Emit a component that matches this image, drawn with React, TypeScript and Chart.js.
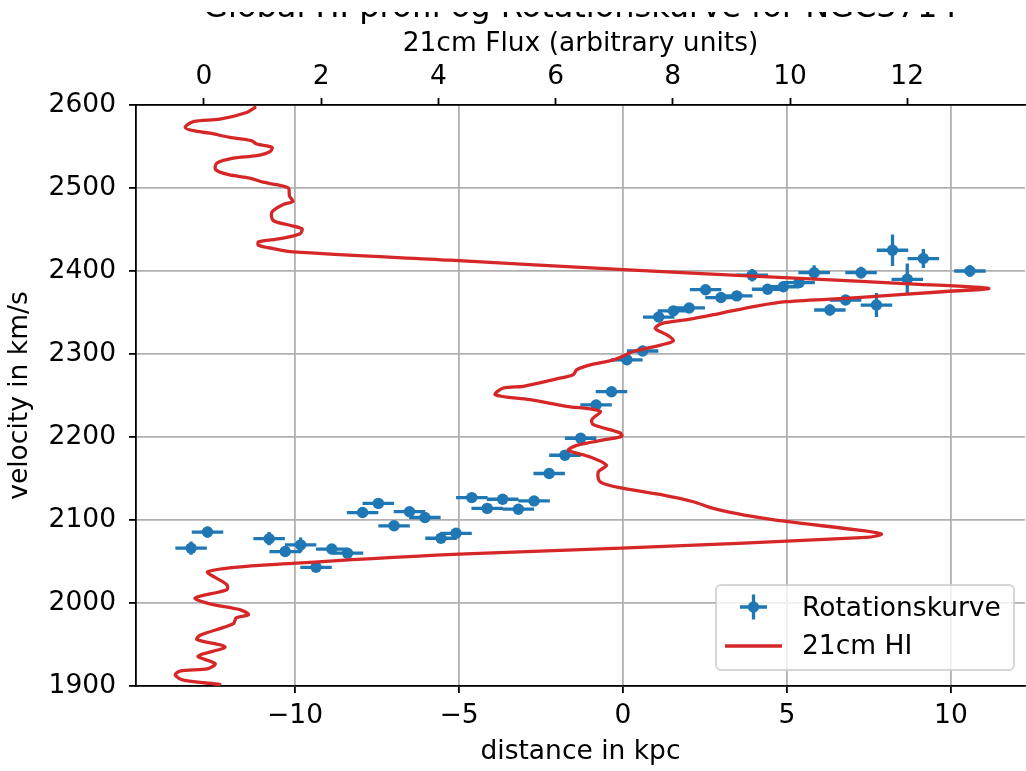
import { useEffect, useRef } from 'react';
import { Chart, registerables } from 'chart.js';

Chart.register(...registerables);

const FONT = "'DejaVu Sans', 'Liberation Sans', sans-serif";
const BLUE = '#1f77b4';
const RED = '#d62728';
const GRID = '#b0b0b0';

const TITLE = 'Global HI profil og Rotationskurve for NGC3714';
const X_LABEL = 'distance in kpc';
const X2_LABEL = '21cm Flux (arbitrary units)';
const Y_LABEL = 'velocity in km/s';

// axis ranges and tick values
const DIST_RANGE = [-14.85, 12.26];
const FLUX_RANGE = [-1.16, 14.01];
const VEL_RANGE = [1900, 2600];
const DIST_TICKS = [-10, -5, 0, 5, 10];
const FLUX_TICKS = [0, 2, 4, 6, 8, 10, 12];
const VEL_TICKS = [1900, 2000, 2100, 2200, 2300, 2400, 2500, 2600];

// rotation curve: distance (kpc), velocity (km/s) and their errors
const ROT_DIST = [
  -13.17, -12.67, -10.79, -10.3, -9.83, -9.36, -8.88, -8.4, -7.94, -7.46,
  -6.98, -6.51, -6.04, -5.55, -5.09, -4.61, -4.14, -3.67, -3.19, -2.71,
  -2.25, -1.77, -1.29, -0.82, -0.35, 0.12, 0.6, 1.09, 1.54, 2.02,
  2.52, 2.99, 3.47, 3.94, 4.41, 4.89, 5.37, 5.83, 6.31, 6.79,
  7.26, 7.73, 8.22, 8.67, 9.16, 10.58,
];
const ROT_VEL = [
  2066, 2085.5, 2077.5, 2062, 2070, 2043, 2065, 2060, 2109, 2120,
  2093, 2110, 2103, 2078, 2084, 2127, 2114, 2125, 2113, 2123,
  2156, 2178, 2198.5, 2238.6, 2254.6, 2293, 2303.6, 2344.5, 2352, 2355.5,
  2377.5, 2368, 2370, 2395, 2378, 2381, 2386, 2398, 2353, 2365,
  2398, 2359, 2425, 2390, 2415, 2400,
];
const ROT_VEL_ERR = [
  8, 6.5, 8, 4, 9, 4, 4, 4, 4, 4,
  4, 4, 4, 4, 4, 4, 4, 4, 4, 4,
  4, 4, 4, 4, 4, 4, 4, 4, 4, 4,
  4, 4, 4, 7.5, 5, 4, 4, 9, 6.6, 4,
  7, 14.5, 19, 19, 11.5, 7,
];
const ROT_DIST_ERR = [
  0.48, 0.48, 0.48, 0.48, 0.48, 0.48, 0.48, 0.48, 0.48, 0.48,
  0.48, 0.48, 0.48, 0.48, 0.48, 0.48, 0.48, 0.48, 0.48, 0.48,
  0.48, 0.48, 0.48, 0.48, 0.48, 0.48, 0.48, 0.48, 0.48, 0.48,
  0.48, 0.48, 0.48, 0.48, 0.48, 0.48, 0.48, 0.48, 0.48, 0.48,
  0.48, 0.48, 0.48, 0.48, 0.48, 0.48,
];

// global HI profile: velocity (km/s) and 21cm flux
const HI_VEL = [
  2597, 2591, 2583, 2580, 2573, 2569, 2566, 2561, 2557, 2553,
  2549, 2544, 2539, 2536, 2530, 2522, 2516, 2512, 2507, 2504,
  2500, 2490, 2484, 2480, 2471, 2461, 2456, 2451, 2445, 2439,
  2435, 2431, 2427, 2423, 2413, 2402, 2392, 2384, 2379, 2375,
  2368, 2363, 2358, 2349, 2342, 2337, 2331, 2323, 2316, 2311,
  2303, 2293, 2287, 2281, 2275, 2270, 2261, 2259, 2251, 2245,
  2237, 2231, 2221, 2215, 2205, 2201, 2197, 2190, 2184, 2176,
  2166, 2158, 2146, 2138, 2130, 2122, 2114, 2106, 2098, 2088,
  2083, 2079, 2066, 2059, 2048, 2038, 2022, 2016, 2006, 1999,
  1992, 1986, 1982, 1975, 1961, 1956, 1947, 1936, 1927, 1921,
  1918, 1913, 1907, 1902,
];
const HI_FLUX = [
  0.87, 0.73, 0.27, -0.18, -0.32, -0.18, 0.1, 0.44, 0.81, 0.9,
  1.16, 1.13, 0.9, 0.5, 0.22, 0.2, 0.42, 0.78, 1.01, 1.24,
  1.44, 1.46, 1.52, 1.35, 1.16, 1.18, 1.41, 1.67, 1.64, 1.3,
  0.93, 0.93, 1.18, 1.52, 4.2, 7.08, 9.9, 12.2, 13.39, 12.6,
  11.15, 9.94, 9.45, 8.81, 8.3, 7.82, 7.7, 7.9, 8.01, 7.81,
  7.33, 6.99, 6.59, 6.36, 6.3, 6.02, 5.45, 5.11, 4.97, 5.56,
  6.19, 6.76, 6.62, 6.64, 7.1, 7.13, 6.87, 6.36, 6.22, 6.59,
  6.87, 6.73, 6.76, 7.16, 7.84, 8.35, 8.69, 9.22, 9.97, 11.14,
  11.56, 11.31, 7.12, 4.35, 1.58, 0.07, 0.39, 0.39, -0.15, 0.1,
  0.61, 0.76, 0.55, 0.5, -0.07, -0.12, 0.36, -0.1, 0.19, 0.07,
  -0.41, -0.49, -0.35, 0.27,
];

const fmt = (v: number) => (v < 0 ? `\u2212${-v}` : `${v}`);
const tickFont = { family: FONT, size: 26.5, lineHeight: 1 };
const MARKER_RADIUS = 5.7;

// horizontal and vertical error bars under the rotation-curve markers
const errorBars = {
  id: 'errorBars',
  beforeDatasetDraw(chart: any, args: any) {
    if (args.index !== 0) return;
    const { ctx } = chart;
    const x = chart.scales.x;
    const y = chart.scales.y;
    ctx.save();
    ctx.strokeStyle = BLUE;
    ctx.lineWidth = 3.3;
    ctx.lineCap = 'butt';
    ctx.beginPath();
    ROT_DIST.forEach((d, i) => {
      const v = ROT_VEL[i];
      const px = x.getPixelForValue(d);
      const py = y.getPixelForValue(v);
      ctx.moveTo(x.getPixelForValue(d - ROT_DIST_ERR[i]), py);
      ctx.lineTo(x.getPixelForValue(d + ROT_DIST_ERR[i]), py);
      ctx.moveTo(px, y.getPixelForValue(v - ROT_VEL_ERR[i]));
      ctx.lineTo(px, y.getPixelForValue(v + ROT_VEL_ERR[i]));
    });
    ctx.stroke();
    ctx.restore();
  },
};

// main title; only its lower strip shows below the blank top band
const titleText = {
  id: 'titleText',
  afterDraw(chart: any) {
    const { ctx, chartArea, width, height } = chart;
    ctx.save();
    ctx.beginPath();
    ctx.rect(0, 12, width, height - 12);
    ctx.clip();
    ctx.fillStyle = '#000';
    ctx.font = `32px ${FONT}`;
    ctx.textAlign = 'center';
    ctx.textBaseline = 'alphabetic';
    ctx.fillText(TITLE, (chartArea.left + chartArea.right) / 2, 16.5);
    ctx.restore();
  },
};

// framed legend in the lower right corner of the plot area
const legendBox = {
  id: 'legendBox',
  afterDraw(chart: any) {
    const { ctx, chartArea } = chart;
    const w = 298;
    const h = 85;
    const left = chartArea.right - 11 - w;
    const top = chartArea.bottom - 16 - h;
    const r = 5;
    ctx.save();
    ctx.beginPath();
    ctx.moveTo(left + r, top);
    ctx.arcTo(left + w, top, left + w, top + h, r);
    ctx.arcTo(left + w, top + h, left, top + h, r);
    ctx.arcTo(left, top + h, left, top, r);
    ctx.arcTo(left, top, left + w, top, r);
    ctx.closePath();
    ctx.fillStyle = 'rgba(255,255,255,0.8)';
    ctx.fill();
    ctx.strokeStyle = 'rgba(204,204,204,0.8)';
    ctx.lineWidth = 2;
    ctx.stroke();

    // error-bar handle
    const cx = left + 37.5;
    const cy = top + 22;
    ctx.strokeStyle = BLUE;
    ctx.lineWidth = 3.3;
    ctx.beginPath();
    ctx.moveTo(cx - 13.5, cy);
    ctx.lineTo(cx + 13.5, cy);
    ctx.moveTo(cx, cy - 12.5);
    ctx.lineTo(cx, cy + 12.5);
    ctx.stroke();
    ctx.fillStyle = BLUE;
    ctx.beginPath();
    ctx.arc(cx, cy, MARKER_RADIUS, 0, Math.PI * 2);
    ctx.fill();

    // line handle
    ctx.strokeStyle = RED;
    ctx.beginPath();
    ctx.moveTo(left + 9, top + 61);
    ctx.lineTo(left + 66, top + 61);
    ctx.stroke();

    const labels = chart.data.datasets.map((d: any) => d.label);
    ctx.fillStyle = '#000';
    ctx.font = `26.5px ${FONT}`;
    ctx.textAlign = 'left';
    ctx.textBaseline = 'alphabetic';
    ctx.fillText(labels[0], left + 86, top + 31);
    ctx.fillText(labels[1], left + 86, top + 69);
    ctx.restore();
  },
};

export default function App() {
  const ref = useRef<HTMLCanvasElement>(null);

  useEffect(() => {
    const canvas = ref.current;
    if (!canvas) return;
    const chart = new Chart(canvas, {
      type: 'scatter',
      data: {
        datasets: [
          {
            label: 'Rotationskurve',
            data: ROT_DIST.map((d, i) => ({ x: d, y: ROT_VEL[i] })),
            xAxisID: 'x',
            yAxisID: 'y',
            showLine: false,
            pointRadius: MARKER_RADIUS,
            pointBackgroundColor: BLUE,
            pointBorderColor: BLUE,
            pointBorderWidth: 0,
            order: 2,
          },
          {
            label: '21cm HI',
            data: HI_FLUX.map((f, i) => ({ x: f, y: HI_VEL[i] })),
            xAxisID: 'x2',
            yAxisID: 'y',
            showLine: true,
            borderColor: RED,
            borderWidth: 3.3,
            borderJoinStyle: 'round',
            borderCapStyle: 'round',
            pointRadius: 0,
            tension: 0.3,
            fill: false,
            order: 1,
          },
        ],
      } as any,
      options: {
        animation: false,
        responsive: false,
        devicePixelRatio: 1,
        events: [],
        layout: { autoPadding: false, padding: { left: 0, right: 1, top: 0, bottom: 0 } },
        plugins: {
          legend: { display: false },
          tooltip: { enabled: false },
          title: { display: false },
        },
        scales: {
          x: {
            type: 'linear',
            position: 'bottom',
            min: DIST_RANGE[0],
            max: DIST_RANGE[1],
            afterBuildTicks: (s: any) => {
              s.ticks = DIST_TICKS.map((v) => ({ value: v }));
            },
            afterFit: (s: any) => {
              s.height = 85;
            },
            grid: { color: GRID, lineWidth: 1.8, tickColor: '#000', tickLength: 7, tickWidth: 1.8 },
            border: { color: '#000', width: 1.8 },
            ticks: { color: '#000', font: tickFont, padding: 10, maxRotation: 0, autoSkip: false, callback: (v: any) => fmt(Number(v)) },
            title: { display: true, text: X_LABEL, color: '#000', font: tickFont, padding: { top: 0, bottom: 6 } },
          },
          x2: {
            type: 'linear',
            position: 'top',
            min: FLUX_RANGE[0],
            max: FLUX_RANGE[1],
            afterBuildTicks: (s: any) => {
              s.ticks = FLUX_TICKS.map((v) => ({ value: v }));
            },
            afterFit: (s: any) => {
              s.height = 105;
            },
            grid: { drawOnChartArea: false, tickColor: '#000', tickLength: 7, tickWidth: 1.8 },
            border: { color: '#000', width: 1.8 },
            ticks: { color: '#000', font: tickFont, padding: 8, maxRotation: 0, autoSkip: false, callback: (v: any) => fmt(Number(v)) },
            title: { display: true, text: X2_LABEL, color: '#000', font: tickFont, padding: { top: 31, bottom: 0 } },
          },
          y: {
            type: 'linear',
            position: 'left',
            min: VEL_RANGE[0],
            max: VEL_RANGE[1],
            afterBuildTicks: (s: any) => {
              s.ticks = VEL_TICKS.map((v) => ({ value: v }));
            },
            afterFit: (s: any) => {
              s.width = 136;
            },
            grid: { color: GRID, lineWidth: 1.8, tickColor: '#000', tickLength: 7, tickWidth: 1.8 },
            border: { color: '#000', width: 1.8 },
            ticks: { color: '#000', font: tickFont, padding: 13, autoSkip: false, callback: (v: any) => fmt(Number(v)) },
            title: { display: true, text: Y_LABEL, color: '#000', font: tickFont, padding: { top: 7, bottom: 0 } },
          },
        },
      } as any,
      plugins: [errorBars, titleText, legendBox],
    });
    return () => chart.destroy();
  }, []);

  return (
    <div style={{ position: 'fixed', left: 0, top: 0, width: 1026, height: 771, background: '#fff', overflow: 'hidden' }}>
      <canvas ref={ref} width={1026} height={771} style={{ display: 'block', width: 1026, height: 771 }} />
    </div>
  );
}
